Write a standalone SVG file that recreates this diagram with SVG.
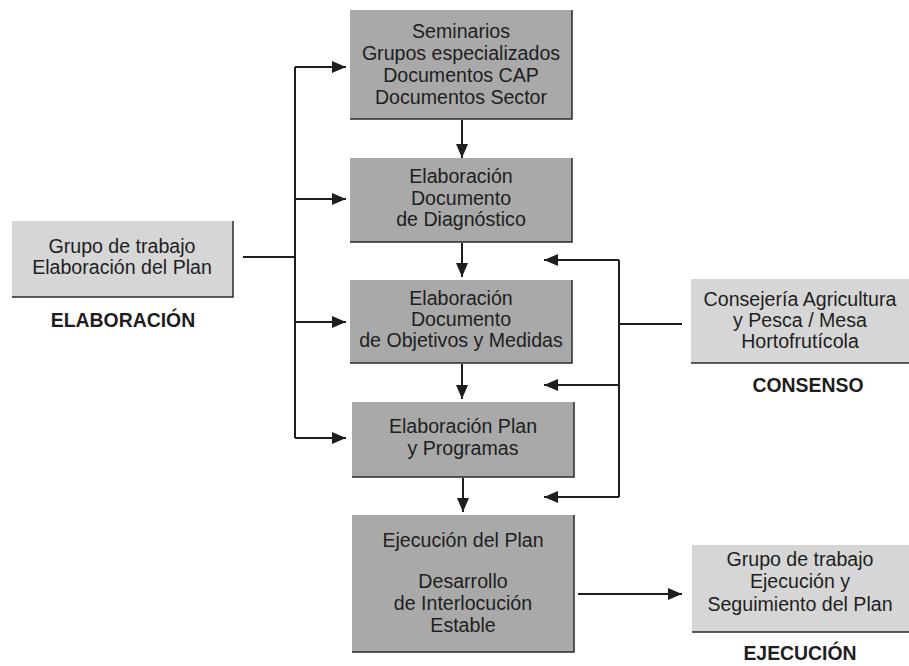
<svg xmlns="http://www.w3.org/2000/svg" width="909" height="666" viewBox="0 0 909 666">
<defs>
<style>
.main{fill:#a9a9a9}
.side{fill:#d6d6d6}
.edge{stroke:#2a2a2a;stroke-width:1.5;fill:none}
.t{font-family:"Liberation Sans",Arial,sans-serif;font-size:19.6px;fill:#1e1e1e;text-anchor:middle}
.b{font-family:"Liberation Sans",Arial,sans-serif;font-size:19.4px;font-weight:bold;fill:#1e1e1e;text-anchor:middle}
.c{stroke:#1e1e1e;stroke-width:2;fill:none}
</style>
<marker id="ah" viewBox="0 0 14 12" refX="14" refY="6" markerWidth="14" markerHeight="12" markerUnits="userSpaceOnUse" orient="auto">
<path d="M0,0 L14,6 L0,12 Z" fill="#1e1e1e"/>
</marker>
</defs>
<rect width="909" height="666" fill="#ffffff"/>

<g id="n1">
<rect class="main" x="350" y="10" width="222" height="109"/>
<path class="edge" d="M572,10 V119 H350"/>
<text class="t" x="461" y="38">Seminarios</text>
<text class="t" x="461" y="60">Grupos especializados</text>
<text class="t" x="461" y="82">Documentos CAP</text>
<text class="t" x="461" y="104">Documentos Sector</text>
</g>
<g id="n2">
<rect class="main" x="350" y="158" width="222" height="84"/>
<path class="edge" d="M572,158 V242 H350"/>
<text class="t" x="461" y="183">Elaboración</text>
<text class="t" x="461" y="205">Documento</text>
<text class="t" x="461" y="226">de Diagnóstico</text>
</g>
<g id="n3">
<rect class="main" x="350" y="280" width="222" height="83"/>
<path class="edge" d="M572,280 V363 H350"/>
<text class="t" x="461" y="305">Elaboración</text>
<text class="t" x="461" y="326">Documento</text>
<text class="t" x="461" y="347">de Objetivos y Medidas</text>
</g>
<g id="n4">
<rect class="main" x="352" y="402" width="222" height="75"/>
<path class="edge" d="M574,402 V477 H352"/>
<text class="t" x="463" y="433">Elaboración Plan</text>
<text class="t" x="463" y="455">y Programas</text>
</g>
<g id="n5">
<rect class="main" x="352" y="515" width="222" height="137"/>
<path class="edge" d="M574,515 V652 H352"/>
<text class="t" x="463" y="547">Ejecución del Plan</text>
<text class="t" x="463" y="588">Desarrollo</text>
<text class="t" x="463" y="610">de Interlocución</text>
<text class="t" x="463" y="632">Estable</text>
</g>
<g id="elab">
<rect class="side" x="12" y="221" width="221" height="76"/>
<path class="edge" d="M233,221 V297 H12"/>
<text class="t" x="122" y="253">Grupo de trabajo</text>
<text class="t" x="122" y="274">Elaboración del Plan</text>
<text class="b" x="123" y="327">ELABORACIÓN</text>
</g>
<g id="cons">
<rect class="side" x="691" y="279" width="218" height="84"/>
<path class="edge" d="M691,363 H909"/>
<text class="t" x="800" y="306">Consejería Agricultura</text>
<text class="t" x="800" y="327">y Pesca / Mesa</text>
<text class="t" x="800" y="348">Hortofrutícola</text>
<text class="b" x="808" y="392">CONSENSO</text>
</g>
<g id="ejec">
<rect class="side" x="692" y="545" width="217" height="87"/>
<path class="edge" d="M692,632 H909"/>
<text class="t" x="800" y="566">Grupo de trabajo</text>
<text class="t" x="800" y="588">Ejecución y</text>
<text class="t" x="800" y="611">Seguimiento del Plan</text>
<text class="b" x="800" y="660">EJECUCIÓN</text>
</g>

<g id="connectors">
<path class="c" d="M243,257 H295"/>
<path class="c" d="M295,67 V438"/>
<path class="c" d="M295,67 H346" marker-end="url(#ah)"/>
<path class="c" d="M295,199 H346" marker-end="url(#ah)"/>
<path class="c" d="M295,322 H346" marker-end="url(#ah)"/>
<path class="c" d="M295,438 H346" marker-end="url(#ah)"/>
<path class="c" d="M462,120 V158" marker-end="url(#ah)"/>
<path class="c" d="M462,243 V277" marker-end="url(#ah)"/>
<path class="c" d="M462,364 V399" marker-end="url(#ah)"/>
<path class="c" d="M463,478 V512" marker-end="url(#ah)"/>
<path class="c" d="M682,324 H619"/>
<path class="c" d="M619,260 V497"/>
<path class="c" d="M619,260 H544" marker-end="url(#ah)"/>
<path class="c" d="M619,385 H544" marker-end="url(#ah)"/>
<path class="c" d="M619,497 H544" marker-end="url(#ah)"/>
<path class="c" d="M578,594 H682" marker-end="url(#ah)"/>
</g>
</svg>
